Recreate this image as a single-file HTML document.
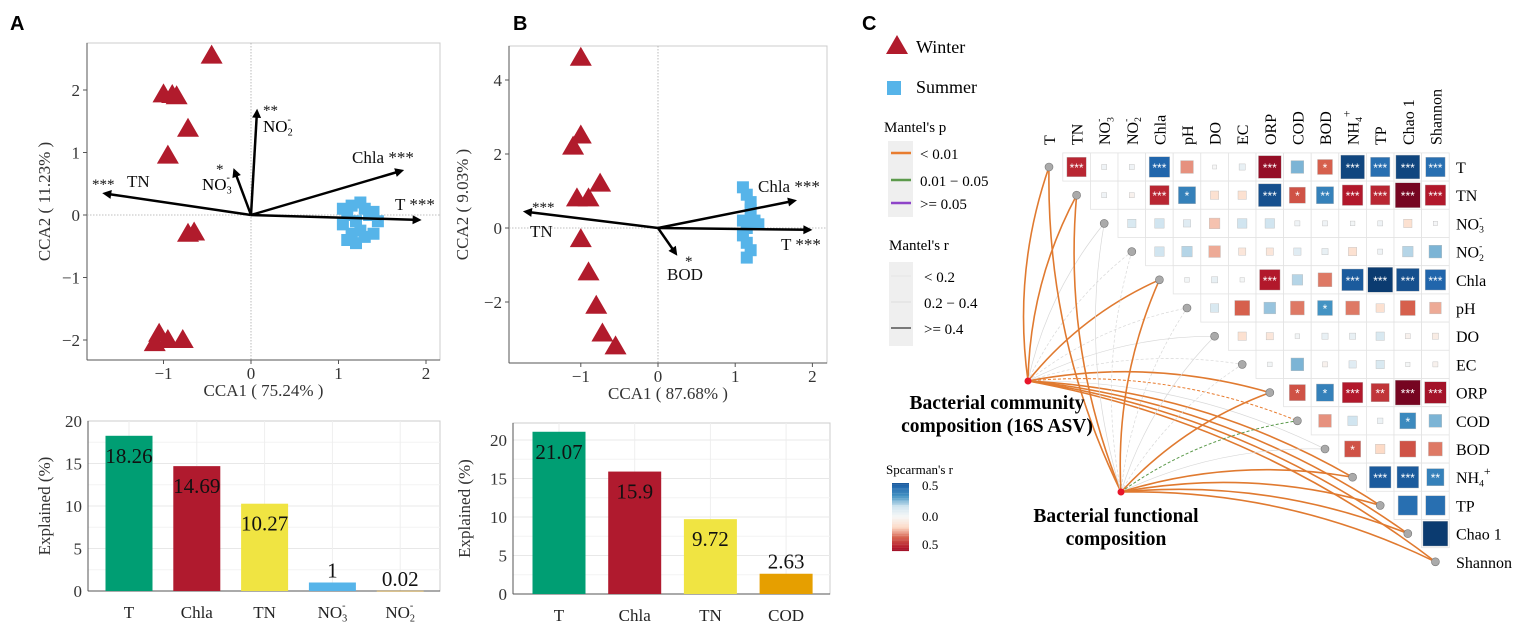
<!DOCTYPE html>
<html><head><meta charset="utf-8"><style>
body{margin:0;background:#fff;width:1535px;height:625px;overflow:hidden}
svg{font-family:"Liberation Serif",serif}
</style></head><body>
<svg id="fig" width="1535" height="625" viewBox="0 0 1535 625" xmlns="http://www.w3.org/2000/svg">
<g font-family="Liberation Sans,sans-serif" font-weight="bold" font-size="20">
<text x="10" y="30">A</text>
<text x="513" y="30">B</text>
<text x="862" y="30">C</text>
</g>
<g id="A1"></g><g id="B1"></g><g id="A2"></g><g id="B2"></g><g id="C"></g>
</svg>
<script>
// ---- data ----
const aWinterX=[-0.45,-1.0,-0.9,-0.85,-0.72,-0.95,-0.72,-0.65,-1.05,-1.1,-0.95,-0.78];
const aWinterY=[2.55,1.93,1.92,1.9,1.38,0.95,-0.3,-0.28,-1.9,-2.05,-2.0,-2.0];
const aSummerX=[1.05,1.1,1.05,1.15,1.2,1.3,1.4,1.25,1.35,1.45,1.15,1.3,1.2,1.1,1.4,1.25];
const aSummerY=[0.1,0.0,-0.15,-0.3,-0.45,-0.35,-0.3,0.2,0.0,-0.1,0.15,0.1,-0.1,-0.4,0.05,-0.25];
const aArrowNames=["TN","NO3","NO2","Chla","T"];
const aArrowX=[-1.7,-0.2,0.07,1.75,1.95];
const aArrowY=[0.35,0.75,1.7,0.72,-0.08];
const bWinterX=[-1.0,-1.0,-1.1,-0.75,-1.05,-0.9,-1.0,-0.9,-0.8,-0.72,-0.55];
const bWinterY=[4.6,2.5,2.2,1.2,0.8,0.8,-0.3,-1.2,-2.1,-2.85,-3.2];
const bSummerX=[1.1,1.15,1.2,1.2,1.3,1.15,1.1,1.15,1.2,1.15,1.25,1.1];
const bSummerY=[1.1,0.9,0.7,0.5,0.1,0.0,-0.2,-0.4,-0.6,-0.8,0.2,0.2];
const bArrowNames=["TN","Chla","T","BOD"];
const bArrowX=[-1.75,1.8,2.0,0.25];
const bArrowY=[0.45,0.75,-0.05,-0.75];
const barACats=["T","Chla","TN","NO3","NO2"];
const barAVals=[18.26,14.69,10.27,1,0.02];
const barBCats=["T","Chla","TN","COD"];
const barBVals=[21.07,15.9,9.72,2.63];
const vars=["T","TN","NO3","NO2","Chla","pH","DO","EC","ORP","COD","BOD","NH4","TP","Chao 1","Shannon"];
const corr=[
[0,-0.7,0.05,0.05,0.75,-0.4,0.0,0.1,-0.85,0.4,-0.5,0.9,0.7,0.9,0.7],
[0,0,0.05,-0.05,-0.7,0.6,-0.2,-0.2,0.85,-0.55,0.6,-0.75,-0.7,-0.95,-0.75],
[0,0,0,0.2,0.25,0.15,-0.3,0.25,0.25,0.05,0.05,0.03,0.05,-0.2,0.01],
[0,0,0,0,0.25,0.3,-0.35,-0.15,-0.15,0.15,0.1,-0.2,0.05,0.3,0.4],
[0,0,0,0,0,0.03,0.1,0.02,-0.75,0.3,-0.45,0.8,0.95,0.85,0.75],
[0,0,0,0,0,0,0.2,-0.5,0.35,-0.45,0.5,-0.45,-0.2,-0.5,-0.35],
[0,0,0,0,0,0,0,-0.2,-0.15,0.03,0.1,0.1,0.2,-0.05,-0.1],
[0,0,0,0,0,0,0,0,0.03,0.4,-0.05,0.15,0.2,0.02,-0.05],
[0,0,0,0,0,0,0,0,0,-0.55,0.6,-0.75,-0.65,-0.95,-0.8],
[0,0,0,0,0,0,0,0,0,0,-0.4,0.25,0.07,0.55,0.4],
[0,0,0,0,0,0,0,0,0,0,0,-0.55,-0.25,-0.55,-0.45],
[0,0,0,0,0,0,0,0,0,0,0,0,0.8,0.8,0.6],
[0,0,0,0,0,0,0,0,0,0,0,0,0,0.7,0.7],
[0,0,0,0,0,0,0,0,0,0,0,0,0,0,0.95]];
const stars=[
["","***","","","***","","","","***","","*","***","***","***","***"],
["","","","","***","*","","","***","*","**","***","***","***","***"],
[],[],
["","","","","","","","","***","","","***","***","***","***"],
["","","","","","","","","","","*","","","",""],
[],[],
["","","","","","","","","","*","*","***","**","***","***"],
["","","","","","","","","","","","","","*",""],
["","","","","","","","","","","","*","","",""],
["","","","","","","","","","","","","***","***","**"],
[],[]];
const commEdges=["o","o","n","n","o","n","n","n","o","od","n","o","o","o","o"];
const funcEdges=["o","o","n","n","o","n","n","n","o","g","n","o","o","o","o"];

const NS="http://www.w3.org/2000/svg";
function el(p,t,a){const e=document.createElementNS(NS,t);for(const k in a)e.setAttribute(k,a[k]);p.appendChild(e);return e;}
function txt(p,x,y,s,a){const e=el(p,"text",Object.assign({x:x,y:y},a||{}));e.textContent=s;return e;}
function chem(p,x,y,name,size,anchor){
  const t=el(p,"text",{x:x,y:y,"font-size":size,"text-anchor":anchor||"start"});
  if(name==="NO3"||name==="NO2"){t.textContent="NO";const s=el(t,"tspan",{"font-size":size*0.6,dy:size*0.2});s.textContent=name[2];const m=el(t,"tspan",{"font-size":size*0.6,dx:-size*0.3,dy:-size*0.75});m.textContent="-";}
  else if(name==="NH4"){t.textContent="NH";const s=el(t,"tspan",{"font-size":size*0.6,dy:size*0.2});s.textContent="4";const m=el(t,"tspan",{"font-size":size*0.75,dy:-size*0.7});m.textContent="+";}
  else t.textContent=name;
  return t;
}
const RED="#b11b2c",BLUE="#56b4e9";

function scatter(g,cfg){
  const sx=v=>cfg.x0+v*cfg.kx, sy=v=>cfg.y0-v*cfg.ky;
  const f=el(g,"g",{});
  
  
  el(f,"rect",{x:cfg.L,y:cfg.T,width:cfg.R-cfg.L,height:cfg.B-cfg.T,fill:"none",stroke:"#ccc"});
  el(f,"line",{x1:cfg.L,y1:cfg.T,x2:cfg.L,y2:cfg.B,stroke:"#555"});
  el(f,"line",{x1:cfg.L,y1:cfg.B,x2:cfg.R,y2:cfg.B,stroke:"#555"});
  el(f,"line",{x1:sx(0),y1:cfg.T,x2:sx(0),y2:cfg.B,stroke:"#aaa","stroke-dasharray":"1.5,1.5","stroke-width":0.8});
  el(f,"line",{x1:cfg.L,y1:sy(0),x2:cfg.R,y2:sy(0),stroke:"#aaa","stroke-dasharray":"1.5,1.5","stroke-width":0.8});
  cfg.xt.forEach(v=>{el(f,"line",{x1:sx(v),y1:cfg.B,x2:sx(v),y2:cfg.B+4,stroke:"#555"});const t=txt(f,sx(v),cfg.B+19,v<0?"−"+(-v):""+v,{"font-size":17,"text-anchor":"middle",fill:"#333"});});
  cfg.yt.forEach(v=>{el(f,"line",{x1:cfg.L-4,y1:sy(v),x2:cfg.L,y2:sy(v),stroke:"#555"});const t=txt(f,cfg.L-7,sy(v)+6,v<0?"−"+(-v):""+v,{"font-size":17,"text-anchor":"end",fill:"#333"});});
  const xtT=txt(f,(cfg.L+cfg.R)/2,cfg.B+36,cfg.xtitle,{"font-size":17,"text-anchor":"middle",fill:"#333"});
  
  const yc=(cfg.T+cfg.B)/2;
  const ytT=txt(f,cfg.ytx,yc,cfg.ytitle,{"font-size":17,"text-anchor":"middle",fill:"#333",transform:`rotate(-90 ${cfg.ytx} ${yc})`});
  
  cfg.sX.forEach((v,i)=>{const r=el(f,"rect",{x:sx(v)-6,y:sy(cfg.sY[i])-6,width:12,height:12,fill:BLUE});
    });
  cfg.wX.forEach((v,i)=>{const x=sx(v),y=sy(cfg.wY[i]);const p=el(f,"polygon",{points:`${x},${y-11} ${x-11},${y+8} ${x+11},${y+8}`,fill:RED});
    });
  cfg.aN.forEach((n,i)=>{
    const x=sx(cfg.aX[i]),y=sy(cfg.aY[i]),ox=sx(0),oy=sy(0);
    const ang=Math.atan2(y-oy,x-ox);
    const a=el(f,"g",{});
    
    el(a,"line",{x1:ox,y1:oy,x2:x-4*Math.cos(ang),y2:y-4*Math.sin(ang),stroke:"#000","stroke-width":2.5});
    const h=9,w=4.5,bx=x-h*Math.cos(ang),by=y-h*Math.sin(ang);
    el(a,"polygon",{points:`${x},${y} ${bx-w*Math.sin(ang)},${by+w*Math.cos(ang)} ${bx+w*Math.sin(ang)},${by-w*Math.cos(ang)}`,fill:"#000"});
    const lb=cfg.labels[n];
    lb.forEach(L=>{if(L.chem)chem(a,L.x,L.y,L.t,17);else txt(a,L.x,L.y,L.t,{"font-size":L.s||17,fill:"#111"});});
  });
}
scatter(document.getElementById("A1"),{name:"cca-a",L:87,R:440,T:43,B:360,x0:251,kx:87.5,y0:215,ky:62.5,xt:[-1,0,1,2],yt:[-2,-1,0,1,2],
 xtitle:"CCA1 ( 75.24% )",ytitle:"CCA2 ( 11.23% )",ytx:50,sX:aSummerX,sY:aSummerY,wX:aWinterX,wY:aWinterY,aN:aArrowNames,aX:aArrowX,aY:aArrowY,
 labels:{TN:[{x:92,y:189,t:"***",s:15},{x:127,y:187,t:"TN"}],NO3:[{x:216,y:174,t:"*",s:15},{x:202,y:190,t:"NO3",chem:1}],NO2:[{x:263,y:115,t:"**",s:15},{x:263,y:132,t:"NO2",chem:1}],
 Chla:[{x:352,y:163,t:"Chla ***"}],T:[{x:395,y:210,t:"T ***"}]}});
scatter(document.getElementById("B1"),{name:"cca-b",L:509,R:827,T:46,B:363,x0:658,kx:77.2,y0:228,ky:37,xt:[-1,0,1,2],yt:[-2,0,2,4],
 xtitle:"CCA1 ( 87.68% )",ytitle:"CCA2 ( 9.03% )",ytx:468,sX:bSummerX,sY:bSummerY,wX:bWinterX,wY:bWinterY,aN:bArrowNames,aX:bArrowX,aY:bArrowY,
 labels:{TN:[{x:532,y:212,t:"***",s:15},{x:530,y:237,t:"TN"}],Chla:[{x:758,y:192,t:"Chla ***"}],T:[{x:781,y:250,t:"T ***"}],BOD:[{x:685,y:266,t:"*",s:15},{x:667,y:280,t:"BOD"}]}});

function bars(g,cfg){
  const sy=v=>cfg.B-v*cfg.k;
  const f=el(g,"g",{});
  
  el(f,"rect",{x:cfg.L,y:cfg.T,width:cfg.R-cfg.L,height:cfg.B-cfg.T,fill:"none",stroke:"#ccc"});
  for(let v=2.5;v*cfg.k<cfg.B-cfg.T;v+=2.5)el(f,"line",{x1:cfg.L,y1:sy(v),x2:cfg.R,y2:sy(v),stroke:v%5?"#f3f3f3":"#e8e8e8"});
  cfg.cats.forEach((c,i)=>{const x=cfg.c0+i*cfg.dx;el(f,"line",{x1:x,y1:cfg.T,x2:x,y2:cfg.B,stroke:"#eee"});});
  el(f,"line",{x1:cfg.L,y1:cfg.B,x2:cfg.R,y2:cfg.B,stroke:"#555"});
  el(f,"line",{x1:cfg.L,y1:cfg.T,x2:cfg.L,y2:cfg.B,stroke:"#555"});
  [0,5,10,15,20].forEach(v=>{const t=txt(f,cfg.L-6,sy(v)+6,""+v,{"font-size":17,"text-anchor":"end",fill:"#333"});});
  const yc=(cfg.T+cfg.B)/2;
  const yt=txt(f,cfg.ytx,yc,"Explained (%)",{"font-size":17,"text-anchor":"middle",fill:"#333",transform:`rotate(-90 ${cfg.ytx} ${yc})`});
  
  cfg.cats.forEach((c,i)=>{
    const x=cfg.c0+i*cfg.dx,v=cfg.vals[i],top=sy(v);
    const r=el(f,"rect",{x:x-cfg.w/2,y:top,width:cfg.w,height:Math.max(cfg.B-top,0.5),fill:cfg.colors[i]});
    
    const lt=txt(f,x,v<4?top-5:top+27,""+v,{"font-size":21,"text-anchor":"middle",fill:"#111"});
    
    const cl=chem(f,x,cfg.B+27,c,17,"middle");cl.setAttribute("fill","#222");
    
  });
}
bars(document.getElementById("A2"),{name:"bar-chart-a",L:88,R:440,T:421,B:591,k:8.5,c0:129,dx:67.8,w:47,ytx:50,cats:barACats,vals:barAVals,colors:["#009e73","#b01a2e","#f0e442","#56b4e9","#e69f00"]});
bars(document.getElementById("B2"),{name:"bar-chart-b",L:513,R:830,T:423,B:594,k:7.7,c0:559,dx:75.7,w:53,ytx:470,cats:barBCats,vals:barBVals,colors:["#009e73","#b01a2e","#f0e442","#e69f00"]});

// ---- Panel C ----
const C=document.getElementById("C");
const cx=k=>1049+27.6*k, cy=i=>167+28.2*i;
function lerp(a,b,t){return a.map((v,i)=>Math.round(v+(b[i]-v)*t));}
function col(r){const a=Math.min(Math.abs(r),1);
  const stops=r>=0?[[247,247,247],[209,229,240],[67,147,195],[33,102,172],[5,48,97]]:[[247,247,247],[253,219,199],[214,96,77],[178,24,43],[103,0,31]];
  const p=a*4,i=Math.min(Math.floor(p),3);const c=lerp(stops[i],stops[i+1],p-i);return `rgb(${c})`;}
const lg=el(C,"g",{});
el(lg,"polygon",{points:"897,35 886,54 908,54",fill:RED});
txt(lg,916,53,"Winter",{"font-size":18});
el(lg,"rect",{x:887,y:81,width:14,height:14,fill:BLUE});
txt(lg,916,93,"Summer",{"font-size":18});
txt(lg,884,132,"Mantel's p",{"font-size":15});
el(lg,"rect",{x:888,y:141,width:25,height:76,fill:"#efefef"});
[["#e87c2f","< 0.01",153],["#5c9a4c","0.01 − 0.05",180],["#8e44c8",">= 0.05",203]].forEach(d=>{el(lg,"line",{x1:891,y1:d[2],x2:911,y2:d[2],stroke:d[0],"stroke-width":2.5});txt(lg,920,d[2]+6,d[1],{"font-size":15});});
txt(lg,889,250,"Mantel's r",{"font-size":15});
el(lg,"rect",{x:889,y:262,width:24,height:84,fill:"#efefef"});
[["< 0.2",276,0.3],["0.2 − 0.4",302,0.5],[">= 0.4",328,1.2]].forEach(d=>{el(lg,"line",{x1:891,y1:d[1],x2:911,y2:d[1],stroke:d[2]>1?"#333":"#ccc","stroke-width":d[2]});txt(lg,924,d[1]+6,d[0],{"font-size":15});});
// colorbar
const cb=el(C,"g",{});
txt(cb,886,474,"Spcarman's r",{"font-size":13});
for(let k=0;k<40;k++){const r=0.8-k*1.6/39;el(cb,"rect",{x:892,y:483+k*1.7,width:17,height:1.8,fill:col(r)});}
txt(cb,922,490,"0.5",{"font-size":13});txt(cb,922,521,"0.0",{"font-size":13});txt(cb,922,549,"0.5",{"font-size":13});
// edges
const src=[[1028,381],[1121,492]];
[commEdges,funcEdges].forEach((E,s)=>{
  const [x0,y0]=src[s];
  E.forEach((t,i)=>{
    const x1=cx(i),y1=cy(i),dx=x1-x0,dy=y1-y0;
    const mx=(x0+x1)/2+dy*0.12,my=(y0+y1)/2-dx*0.12;
    const st=t==="n"?{stroke:"#d8d8d8","stroke-width":0.7,"stroke-dasharray":i%2?"3,2":""}:
      t==="g"?{stroke:"#5c9a4c","stroke-width":1,"stroke-dasharray":"3,2"}:
      t==="od"?{stroke:"#e87c2f","stroke-width":1,"stroke-dasharray":"3,2"}:{stroke:"#e07a30","stroke-width":1.6};
    const p=el(C,"path",Object.assign({d:`M${x0},${y0} Q${mx},${my} ${x1},${y1}`,fill:"none"},st));
    
  });
});
const hm=el(C,"g",{});
for(let i=0;i<14;i++)for(let k=i+1;k<15;k++){
  const x=cx(k),y=cy(i),r=corr[i][k];
  el(hm,"rect",{x:x-13.8,y:y-14.1,width:27.6,height:28.2,fill:"#fff",stroke:"#e3e3e3","stroke-width":0.8});
  const s=4+22*Math.abs(r);
  const c=el(hm,"rect",{x:x-s/2,y:y-s/2,width:s,height:s,fill:col(r),stroke:"#bbb","stroke-width":0.4});
  
  const st=(stars[i]||[])[k];
  if(st)txt(hm,x,y+5,st,{"font-size":12,"text-anchor":"middle",fill:"#fff","font-family":"Liberation Sans,sans-serif"});
}
vars.forEach((v,i)=>{
  const d=el(C,"circle",{cx:cx(i),cy:cy(i),r:4,fill:"#aaa",stroke:"#777","stroke-width":0.6});
  
  const rl=chem(C,1456,cy(i)+6,v,16,"start");
  if(i>0){const g=el(C,"g",{transform:`translate(${cx(i)+6},145) rotate(-90)`});const cl=chem(g,0,0,v,16,"start");
    }
});
{const g=el(C,"g",{transform:`translate(${cx(0)+6},145) rotate(-90)`});const t=txt(g,0,0,"T",{"font-size":16});}
src.forEach((p,s)=>{const d=el(C,"circle",{cx:p[0],cy:p[1],r:3.5,fill:"#e8152a"});});
const t1=txt(C,997,409,"Bacterial community",{"font-size":19.5,"font-weight":"bold","text-anchor":"middle"});

txt(C,997,432,"composition (16S ASV)",{"font-size":19.5,"font-weight":"bold","text-anchor":"middle"});
const t2=txt(C,1116,522,"Bacterial functional",{"font-size":19.5,"font-weight":"bold","text-anchor":"middle"});

txt(C,1116,545,"composition",{"font-size":19.5,"font-weight":"bold","text-anchor":"middle"});
</script>
</body></html>
